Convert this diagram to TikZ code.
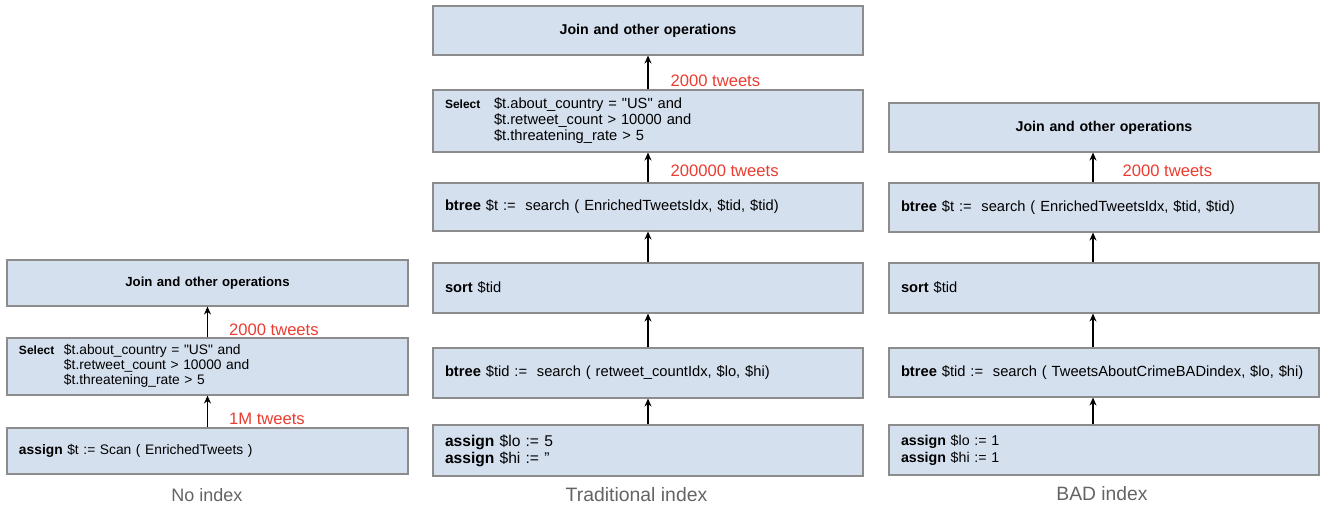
\documentclass[tikz,border=0pt]{standalone}
\usepackage{fontspec}
\setmainfont{Liberation Sans}[Ligatures=TeXOff]
\usetikzlibrary{arrows.meta,positioning}
\definecolor{opfill}{RGB}{213,224,239}
\definecolor{opline}{RGB}{140,140,140}
\definecolor{cntred}{RGB}{234,60,48}
\definecolor{capgray}{RGB}{100,100,100}
\newcommand{\selkw}[1]{\makebox[#1][l]{\fontsize{12}{14}\selectfont\textbf{Select}}}

\begin{document}
\begin{tikzpicture}[x=1pt, y=1pt,
  op/.style={draw=opline, line width=1.1pt, fill=opfill, inner xsep=12pt,
             inner ysep=0pt, align=left},
  narrow/.style={op, text width=377pt, font=\fontsize{13.8}{15}\selectfont},
  wide/.style={op, text width=406pt, font=\fontsize{14.7}{16}\selectfont},
  head/.style={align=center},
  ar/.style={-{Stealth[length=8pt, width=7pt]}, line width=1.3pt},
  cnt/.style={text=cntred, font=\fontsize{16.6}{18}\selectfont, inner sep=0pt,
              anchor=base west},
  capt/.style={text=capgray, inner sep=0pt, anchor=base},
]
\useasboundingbox (0,0) rectangle (1323,-506);

% ---- no index -------------------------------------------------------------
\node[narrow, head, minimum height=46pt, font=\fontsize{13.2}{15}\selectfont\bfseries]
  (join1) at (207.5,-283) {Join and other operations};
\node[narrow, minimum height=57pt] (sel1) at (207.5,-366.5)
  {\selkw{45pt}\begin{tabular}[t]{@{}l@{}}\$t.about\_country = "US" and\\
   \$t.retweet\_count > 10000 and\\ \$t.threatening\_rate > 5\end{tabular}};
\node[narrow, minimum height=46pt] (asg1) at (207.5,-451)
  {\textbf{assign} \$t := Scan ( EnrichedTweets )};

\draw[ar] (asg1) -- node[cnt, pos=0.09, xshift=21pt] (n1a) {1M tweets} (sel1);
\draw[ar] (sel1) -- node[cnt, pos=0.06, xshift=21pt] (n1b) {2000 tweets} (join1);

\node[capt, font=\fontsize{18}{20}\selectfont] (cap1) at (207,-501) {No index};

% ---- traditional index ----------------------------------------------------
\node[wide, head, minimum height=49pt, font=\fontsize{14.2}{16}\selectfont\bfseries]
  (join2) at (648,-30.5) {Join and other operations};
\node[wide, minimum height=62pt] (sel2) at (648,-121)
  {\selkw{49pt}\begin{tabular}[t]{@{}l@{}}\$t.about\_country = "US" and\\
   \$t.retweet\_count > 10000 and\\ \$t.threatening\_rate > 5\end{tabular}};
\node[wide, minimum height=48pt] (bt2) at (648,-207)
  {\textbf{btree} \$t :=\ \ search ( EnrichedTweetsIdx, \$tid, \$tid)};
\node[wide, minimum height=50pt] (sort2) at (648,-288) {\textbf{sort} \$tid};
\node[wide, minimum height=50pt] (bs2) at (648,-373)
  {\textbf{btree} \$tid :=\ \ search ( retweet\_countIdx, \$lo, \$hi)};
\node[wide, minimum height=51pt, font=\fontsize{15.6}{17}\selectfont] (asg2) at (648,-450.5)
  {\textbf{assign} \$lo := 5\\ \textbf{assign} \$hi := ”};

\foreach \a/\b in {asg2/bs2, bs2/sort2, sort2/bt2} \draw[ar] (\a) -- (\b);
\draw[ar] (bt2) -- node[cnt, pos=0.19, xshift=22pt] (n2a) {200000 tweets} (sel2);
\draw[ar] (sel2) -- node[cnt, pos=0.08, xshift=22pt] (n2b) {2000 tweets} (join2);

\node[capt, font=\fontsize{19.4}{21}\selectfont] (cap2) at (636.5,-501) {Traditional index};

% ---- BAD index ------------------------------------------------------------
\node[wide, head, minimum height=49pt, font=\fontsize{14.2}{16}\selectfont\bfseries]
  (join3) at (1104,-127.5) {Join and other operations};
\node[wide, minimum height=49pt] (bt3) at (1104,-207.5)
  {\textbf{btree} \$t :=\ \ search ( EnrichedTweetsIdx, \$tid, \$tid)};
\node[wide, minimum height=50pt] (sort3) at (1104,-288) {\textbf{sort} \$tid};
\node[wide, minimum height=49pt] (bs3) at (1104,-372.5)
  {\textbf{btree} \$tid :=\ \ search ( TweetsAboutCrimeBADindex, \$lo, \$hi)};
\node[wide, minimum height=50pt, font=\fontsize{14.2}{17}\selectfont] (asg3) at (1104,-450)
  {\textbf{assign} \$lo := 1\\ \textbf{assign} \$hi := 1};

\foreach \a/\b in {asg3/bs3, bs3/sort3, sort3/bt3}
  \draw[ar] ([xshift=-11pt]\a.north) -- ([xshift=-11pt]\b.south);
\draw[ar] ([xshift=-11pt]bt3.north) --
  node[cnt, pos=0.19, xshift=29pt] (n3a) {2000 tweets} ([xshift=-11pt]join3.south);

\node[capt, font=\fontsize{19.3}{21}\selectfont] (cap3) at (1102,-500) {BAD index};

\end{tikzpicture}
\end{document}
